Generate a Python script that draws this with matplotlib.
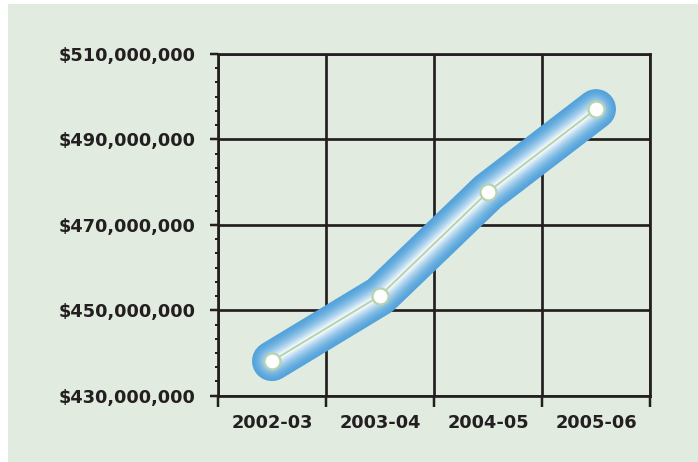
import numpy as np
import matplotlib.pyplot as plt
from matplotlib.patches import Rectangle
from matplotlib.ticker import MultipleLocator, FixedLocator, NullFormatter

# fiscal years and spending (dollars)
years = ["2002-03", "2003-04", "2004-05", "2005-06"]
spending = [438_100_000, 453_400_000, 477_700_000, 497_100_000]

bg = "#e1ebdf"
ink = "#231f20"
blue = np.array([0.33, 0.64, 0.86])
pale_green = "#b5d3ad"

fig = plt.figure(figsize=(6.98, 4.62), dpi=100)
fig.patch.set_facecolor("white")
# green panel behind everything, small white margin top and left
fig.patches.append(Rectangle((8 / 698, 0), 1, 1 - 4 / 462, transform=fig.transFigure,
                             facecolor=bg, edgecolor="none", zorder=-10))

ax = fig.add_axes([218 / 698, 1 - 395.7 / 462, 432 / 698, 341.7 / 462])
ax.set_facecolor(bg)

x = np.arange(len(years))
y = np.array(spending) / 1e6

# thick glowing band: stacked strokes fading from blue edge to white core
px = 72 / 100
n = 30
for i in range(n):
    t = i / (n - 1)
    w = (40 - 38 * t) * px
    c = blue + (1 - blue) * t ** 1.6
    ax.plot(x, y, color=c, lw=w, solid_capstyle="round", solid_joinstyle="round", zorder=3)

ax.plot(x, y, color=pale_green, lw=2 * px, zorder=4)
ax.plot(x, y, "o", ms=16 * px, mfc="white", mec=pale_green, mew=2.2 * px, zorder=5)

ax.set_xlim(-0.5, 3.5)
ax.set_ylim(430, 510)

ax.xaxis.set_major_locator(FixedLocator(np.arange(-0.5, 4, 1)))
ax.xaxis.set_major_formatter(NullFormatter())
ax.xaxis.set_minor_locator(FixedLocator(x))
ax.set_xticklabels(years, minor=True)
ax.tick_params(axis="x", which="major", length=8, width=2.5 * px, color=ink, direction="out")
ax.tick_params(axis="x", which="minor", length=0, pad=13)

ax.set_yticks(np.arange(430, 511, 20))
ax.set_yticklabels([f"${v * 1e6:,.0f}" for v in np.arange(430, 511, 20)])
ax.yaxis.set_minor_locator(MultipleLocator(20 / 6))
ax.tick_params(axis="y", which="major", length=6, width=2.5 * px, color=ink, pad=10)
ax.tick_params(axis="y", which="minor", length=2, width=2 * px, color=ink)

for lab in ax.get_yticklabels() + ax.get_xticklabels(minor=True):
    lab.set_fontsize(12.8)
    lab.set_fontweight("bold")
    lab.set_color(ink)
    lab.set_fontfamily("DejaVu Sans")

ax.grid(True, which="major", color=ink, lw=2.7 * px)
ax.set_axisbelow(True)
for s in ax.spines.values():
    s.set_color(ink)
    s.set_linewidth(2.7 * px)

fig.savefig("out.png", dpi=100, facecolor=fig.get_facecolor())
